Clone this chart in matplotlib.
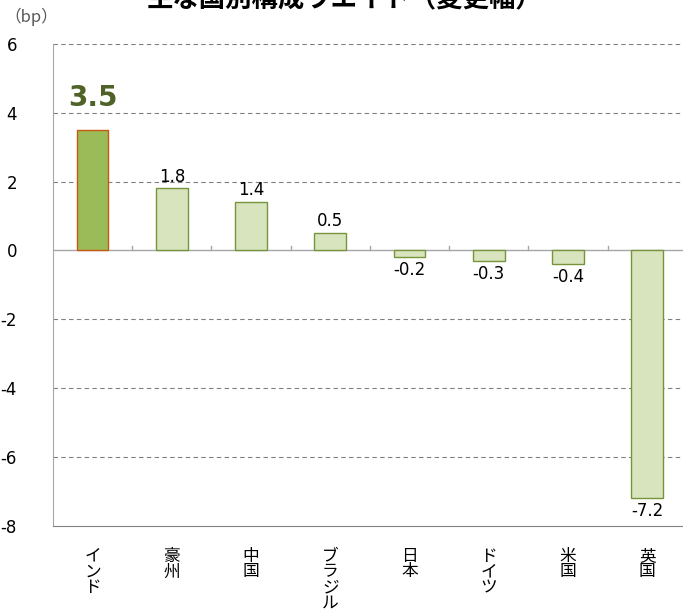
import matplotlib
matplotlib.use("Agg")
import matplotlib.pyplot as plt

countries = ["インド", "豪州", "中国", "ブラジル", "日本", "ドイツ", "米国", "英国"]
changes = [3.5, 1.8, 1.4, 0.5, -0.2, -0.3, -0.4, -7.2]
yticks = [6, 4, 2, 0, -2, -4, -6, -8]

plt.rcParams['font.family'] = ['DejaVu Sans', 'Noto Sans CJK JP']
jp = ['Noto Sans CJK JP', 'DejaVu Sans']

fig = plt.figure(figsize=(6.83, 6.13), dpi=100)
# axes runs a little past the right edge, like the original
ax = fig.add_axes([0.0776, 0.1427, 0.928, 0.7855])

x = list(range(len(countries)))
for i, v in enumerate(changes):
    if i == 0:
        ax.bar(i, v, width=0.4, color="#9BBB59", edgecolor="#C65911", linewidth=1, zorder=3)
    else:
        ax.bar(i, v, width=0.4, color="#D7E4BD", edgecolor="#77933C", linewidth=1, zorder=3)

# labels
for i, v in enumerate(changes):
    if i == 0:
        ax.annotate(f"{v:.1f}", (i, v), xytext=(0, 13), textcoords="offset points",
                    ha="center", va="bottom", fontsize=20, fontweight="bold", color="#4F6228")
    elif v >= 0:
        ax.annotate(f"{v:.1f}", (i, v), xytext=(0, 2), textcoords="offset points",
                    ha="center", va="bottom", fontsize=12)
    else:
        ax.annotate(f"{v:.1f}", (i, v), xytext=(0, -3), textcoords="offset points",
                    ha="center", va="top", fontsize=12)

ax.set_xlim(-0.5, len(countries) - 0.5)
ax.set_ylim(-8, 6)
ax.set_yticks(yticks)
ax.set_yticklabels([str(t) for t in yticks], fontsize=12)
ax.tick_params(axis="y", length=0, pad=26)
for t in yticks:
    if t in (0, -8):
        continue
    ax.axhline(t, color="#808080", linestyle=(0, (4, 3)), linewidth=0.8, zorder=1)
ax.axhline(0, color="#A6A6A6", linewidth=1, zorder=2)
# small ticks on the zero line between categories
for b in range(1, len(countries)):
    ax.plot([b - 0.5, b - 0.5], [0, 0.12], color="#A6A6A6", linewidth=1, zorder=2)

ax.set_xticks(x)
ax.set_xticklabels(["\n".join(c) for c in countries], family=jp, fontsize=12,
                   va="top", linespacing=0.9)
ax.tick_params(axis="x", length=0, pad=16)

for s in ["top", "right"]:
    ax.spines[s].set_visible(False)
ax.spines["left"].set_color("#A6A6A6")
ax.spines["bottom"].set_color("#808080")

fig.text(0.505, 1.0, "主な国別構成ウエイト（変更幅）", family=jp, fontsize=19,
         fontweight="bold", ha="center", va="center")
fig.text(0.006, 0.972, "（bp）", family=jp, fontsize=12, color="#595959",
         ha="left", va="center")

fig.savefig("out.png", dpi=100)
